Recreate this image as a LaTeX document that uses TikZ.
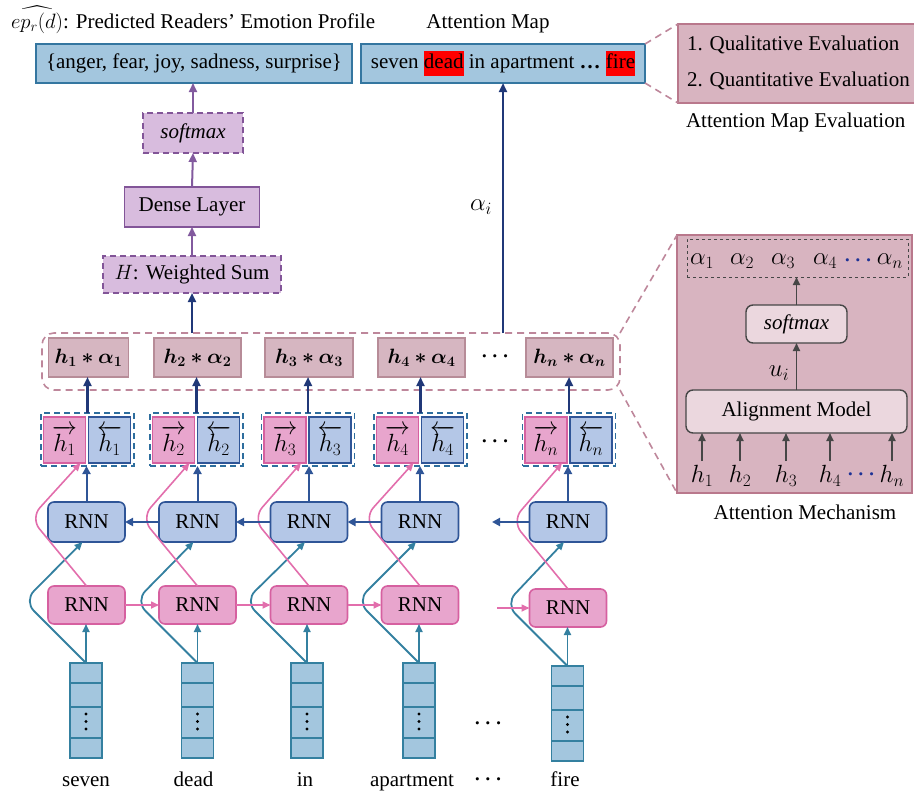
\documentclass[tikz,border=0pt]{standalone}
\usepackage{amsmath}
\usepackage{bm}
\usepackage{fontspec}
\setmainfont{Liberation Serif}
\usetikzlibrary{arrows.meta,calc}
\definecolor{bFill}{RGB}{163,198,222}
\definecolor{bBorder}{RGB}{52,118,160}
\definecolor{tLine}{RGB}{52,128,160}
\definecolor{rbFill}{RGB}{180,199,231}
\definecolor{rbBorder}{RGB}{47,85,151}
\definecolor{pkFill}{RGB}{232,165,205}
\definecolor{pkBorder}{RGB}{214,96,160}
\definecolor{pkLine}{RGB}{226,110,172}
\definecolor{navy}{RGB}{32,56,120}
\definecolor{mFill}{RGB}{214,182,193}
\definecolor{mBorder}{RGB}{183,140,152}
\definecolor{cDash}{RGB}{190,135,155}
\definecolor{panelFill}{RGB}{216,180,192}
\definecolor{panelBorder}{RGB}{185,120,140}
\definecolor{puFill}{RGB}{216,188,222}
\definecolor{puBorder}{RGB}{130,85,152}
\definecolor{puLine}{RGB}{130,90,158}
\definecolor{innerFill}{RGB}{235,215,222}
\definecolor{grayLine}{RGB}{70,70,70}
\definecolor{grpDash}{RGB}{46,110,158}
\definecolor{dotNavy}{RGB}{30,50,150}
\begin{document}
\begin{tikzpicture}[x=1pt,y=-1pt,
  font=\fontsize{21}{25}\selectfont,
  every node/.style={inner sep=0pt, outer sep=0pt},
  mathbig/.style={font=\fontsize{25}{28}\selectfont},
  topbox/.style={draw=bBorder, fill=bFill, line width=1.6pt},
  evalbox/.style={draw=panelBorder, fill=panelFill, line width=1.6pt},
  pubox/.style={draw=puBorder, fill=puFill, line width=1.6pt},
  pudash/.style={pubox, dash pattern=on 6pt off 4pt},
  habox/.style={draw=mBorder, fill=mFill, line width=1.2pt, minimum height=39},
  hfbox/.style={draw=pkBorder, fill=pkFill, line width=1.5pt, minimum width=42, minimum height=46, font=\fontsize{23}{26}\selectfont},
  hbbox/.style={draw=rbBorder, fill=rbFill, line width=1.2pt, minimum width=42, minimum height=46, font=\fontsize{23}{26}\selectfont},
  hgroup/.style={draw=grpDash, line width=1.6pt, dash pattern=on 6pt off 4pt, minimum width=93, minimum height=53},
  rnnb/.style={draw=rbBorder, fill=rbFill, rounded corners=6pt, line width=1.6pt, minimum width=77, minimum height=40},
  rnnf/.style={draw=pkBorder, fill=pkFill, rounded corners=6pt, line width=1.6pt, minimum width=77, minimum height=38},
  vecbox/.style={draw=tLine, fill=bFill, line width=1.6pt, minimum width=32, minimum height=95},
  vecline/.style={draw=tLine, line width=1.6pt},
  contbox/.style={draw=cDash, line width=1.6pt, dash pattern=on 7pt off 5pt, rounded corners=12pt},
  mauvedash/.style={draw=cDash, line width=1.6pt, dash pattern=on 7pt off 5pt},
  panel/.style={draw=panelBorder, fill=panelFill, line width=1.6pt},
  innerbox/.style={draw=grayLine, fill=innerFill, line width=1.4pt, rounded corners=7pt},
  navyarrow/.style={draw=navy, line width=2.2pt, -{Triangle[length=9pt,width=8pt]}},
  bluearrow/.style={draw=rbBorder, line width=2pt, -{Triangle[length=8pt,width=8pt]}},
  pinkarrow/.style={draw=pkLine, line width=1.6pt, -{Triangle[length=8pt,width=7pt]}},
  tealarrow/.style={draw=tLine, line width=1.8pt, -{Triangle[length=8pt,width=7pt]}},
  puarrow/.style={draw=puLine, line width=2pt, -{Triangle[length=9pt,width=8pt]}},
  grayarrow/.style={draw=grayLine, line width=1.8pt, -{Triangle[length=8pt,width=7pt]}}
]
\useasboundingbox (0,0) rectangle (914,793);

% ---------- top row ----------
\node[anchor=base west] (title1) at (11,28) {$\widehat{ep_r(d)}$: Predicted Readers’ Emotion Profile};
\node[anchor=base] (title2) at (488,28) {Attention Map};
\node[topbox, minimum width=316, minimum height=39] (emo) at (194,63.5) {\{anger, fear, joy, sadness, surprise\}};
\node[topbox, minimum width=284, minimum height=39] (att) at (503,63.5)
  {seven {\setlength{\fboxsep}{0pt}\colorbox{red}{\strut dead}} in apartment \textbf{\dots} {\setlength{\fboxsep}{0pt}\colorbox{red}{\strut fire}}};
\node[evalbox, minimum width=240, minimum height=79] (eval) at (798,63.5) {};
\node[anchor=base west] (ev1) at (687,50) {1. Qualitative Evaluation};
\node[anchor=base west] (ev2) at (687,86) {2. Quantitative Evaluation};
\node[anchor=base west] (evcap) at (686,127) {Attention Map Evaluation};
\draw[mauvedash] (att.north east) -- (eval.north west);
\draw[mauvedash] (att.south east) -- (eval.south west);

% ---------- purple stack ----------
\node[pudash, minimum width=100, minimum height=40] (sm) at (193,133) {\textit{softmax}};
\node[pubox, minimum width=135, minimum height=40] (dense) at (192,207) {Dense Layer};
\node[pudash, minimum width=178, minimum height=37] (ws) at (192,274.5) {$H$: Weighted Sum};
\draw[puarrow] (ws.north) -- (dense.south);
\draw[puarrow] (dense.north) -- (sm.south);
\draw[puarrow] (sm.north) -- (emo.south -| sm.north);

% ---------- container of weighted states ----------
\node[contbox, minimum width=578, minimum height=57] (cont) at (331,361.5) {};
\draw[navyarrow] (ws.south |- cont.north) -- (ws.south);
\draw[navyarrow] (att.south |- cont.north) -- (att.south);
\node[mathbig] (alab) at (481,207) {$\alpha_i$};

% ---------- columns ----------
\foreach \i/\c/\g/\a/\aw/\v/\w/\s/\fy/\vt/\word in {
  1/86.5/87.5/88.5/80/86/86/1/605/663/seven,
  2/197.5/196.5/197.5/87/197.5/193.5/2/605/663/dead,
  3/309/308/309/88/307/305/3/605/663/in,
  4/420/420.5/421.5/87/419/412/4/605/663/apartment,
  5/568/569/569.5/87/567.5/565/n/608/666/fire}
{
  \node[habox, minimum width=\aw] (ha\i) at (\a,357.5) {$\bm{h_\s * \alpha_\s}$};
  \node[hgroup] (hg\i) at (\g,439.5) {};
  \node[hfbox] (hp\i) at (\g-23,440) {$\overrightarrow{h_\s}$};
  \node[hbbox] (hq\i) at (\g+22,440) {$\overleftarrow{h_\s}$};
  \node[rnnb] (rb\i) at (\c,522) {RNN};
  \node[rnnf] (rf\i) at (\c,\fy) {RNN};
  \node[vecbox] (v\i) at (\v,\vt+47.5) {};
  \draw[vecline] ([yshift=-20pt]v\i.north west) -- ([yshift=-20pt]v\i.north east);
  \draw[vecline] ([yshift=-44pt]v\i.north west) -- ([yshift=-44pt]v\i.north east);
  \draw[vecline] ([yshift=-75pt]v\i.north west) -- ([yshift=-75pt]v\i.north east);
  \fill (\v,\vt+51) circle (1.7);
  \fill (\v,\vt+58.5) circle (1.7);
  \fill (\v,\vt+66) circle (1.7);
  \node[anchor=base] (w\i) at (\w,786) {\word};
  \draw[navyarrow] (hg\i.north) -- (hg\i.north |- ha\i.south);
  \draw[bluearrow] (rb\i.north) -- (rb\i.north |- hg\i.south);
  \draw[tealarrow] (v\i.north) -- (v\i.north |- rf\i.south);
  \draw[tealarrow, rounded corners=14pt] (v\i.north) -- ++(-62,-62) -- ([xshift=-4pt]rb\i.south);
  \draw[pinkarrow, rounded corners=14pt] (rf\i.north) -- ++(-56,-68) -- ([xshift=16pt]hp\i.south);
}

\node (dots1) at (497,357) {$\bm{\cdots}$};
\node (dots2) at (497,442) {$\bm{\cdots}$};
\node (dots3) at (490,724) {$\bm{\cdots}$};
\node (dots4) at (490,780) {$\bm{\cdots}$};

% horizontal recurrences
\coordinate (bfree) at (492,522);
\coordinate (ffree) at (497,608);
\draw[bluearrow] (rb2.west) -- (rb1.east);
\draw[bluearrow] (rb3.west) -- (rb2.east);
\draw[bluearrow] (rb4.west) -- (rb3.east);
\draw[bluearrow] (rb5.west) -- (bfree);
\draw[pinkarrow] (rf1.east) -- (rf2.west);
\draw[pinkarrow] (rf2.east) -- (rf3.west);
\draw[pinkarrow] (rf3.east) -- (rf4.west);
\draw[pinkarrow] (ffree) -- (rf5.west);

% ---------- attention mechanism panel ----------
\node[panel, minimum width=235, minimum height=258] (panel) at (794.5,364) {};
\draw[mauvedash] (cont.north east) -- (panel.north west);
\draw[mauvedash] (cont.south east) -- (panel.south west);
\node[draw=grayLine, line width=0.9pt, dashed, minimum width=221, minimum height=38] (abox) at (797.5,258) {};
\node[mathbig] (a1) at (702,261) {$\alpha_1$};
\node[mathbig] (a2) at (742,261) {$\alpha_2$};
\node[mathbig] (a3) at (783,261) {$\alpha_3$};
\node[mathbig] (a4) at (825,261) {$\alpha_4$};
\node[text=dotNavy] (adots) at (860,261) {$\bm{\cdots}$};
\node[mathbig] (an) at (890,261) {$\alpha_n$};
\node[innerbox, minimum width=101, minimum height=38] (sm2) at (796.5,324) {\textit{softmax}};
\node[innerbox, minimum width=221, minimum height=43] (align) at (796.5,411.5) {Alignment Model};
\draw[grayarrow] (align.north) -- (sm2.south);
\draw[grayarrow] (sm2.north) -- (abox.south -| sm2.north);
\node[mathbig] (ui) at (779,373) {$u_i$};
\foreach \j/\x/\s in {1/702/1, 2/740/2, 3/786/3, 4/830/4, 5/892/n}{
  \node[mathbig] (hl\j) at (\x,476) {$h_\s$};
  \coordinate (hs\j) at (\x,461);
  \draw[grayarrow] (hs\j) -- (hs\j |- align.south);
}
\node[text=dotNavy] (hdots) at (863,475) {$\bm{\cdots}$};
\node[anchor=base] (mechcap) at (805,519) {Attention Mechanism};
\end{tikzpicture}
\end{document}
